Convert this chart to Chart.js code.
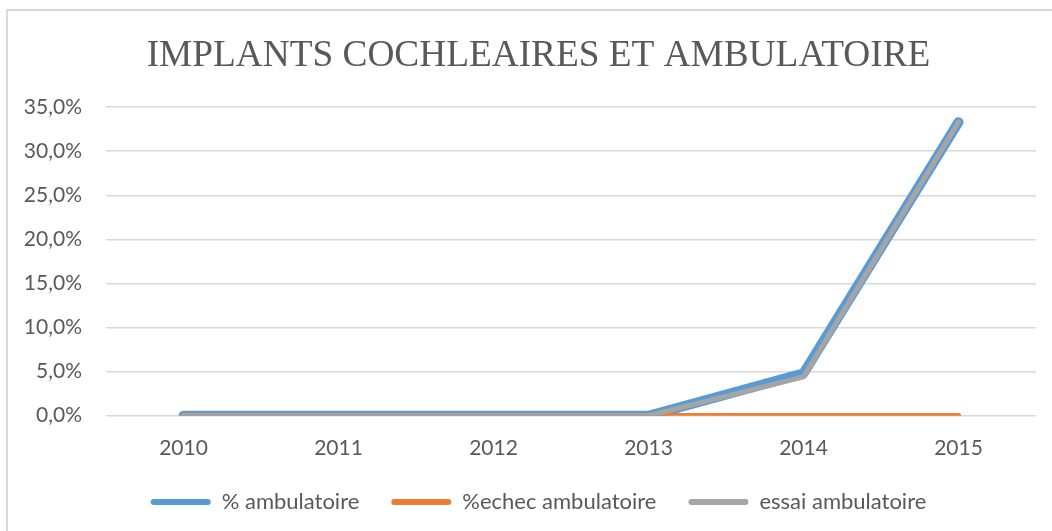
<!DOCTYPE html>
<html>
<head>
<meta charset="utf-8">
<script src="https://cdn.jsdelivr.net/npm/chart.js@4.4.1/dist/chart.umd.min.js"></script>
<style>
  html, body { margin: 0; padding: 0; background: #ffffff; }
  #wrap { position: relative; width: 1052px; height: 531px; }
  #frame { position: absolute; left: 6px; top: 9px; right: 0; bottom: 0;
           border-top: 2px solid #d9d9d9; border-left: 2px solid #d9d9d9; }
  canvas { position: absolute; left: 0; top: 0; }
</style>
</head>
<body>
<div id="wrap">
  <div id="frame"></div>
  <canvas id="c" width="1052" height="531"></canvas>
</div>
<script>
const titleText = 'IMPLANTS COCHLEAIRES ET AMBULATOIRE';
const categories = ['2010', '2011', '2012', '2013', '2014', '2015'];
const seriesNames = ['% ambulatoire', '%echec ambulatoire', 'essai ambulatoire'];
const ambulatoire = [0, 0, 0, 0, 4.8, 33.3];
const echecAmbulatoire = [0, 0, 0, 0, 0, 0];
const essaiAmbulatoire = [0, 0, 0, 0, 4.4, 33.3];
const yTicks = [0, 5, 10, 15, 20, 25, 30, 35];

const colors = ['#5B9BD5', '#ED7D31', '#A5A5A5'];
const widths = [10, 5.5, 5];
const textColor = '#595959';

Chart.defaults.font.family = 'Lato, "Open Sans", sans-serif';

// shift title and legend blocks horizontally so they are centred like the reference
const centreShift = {
  id: 'centreShift',
  afterLayout(chart) {
    const dx = 20.5;
    [chart.titleBlock, chart.legend].forEach(b => {
      if (b) { b.left += dx; b.right += dx; }
    });
  }
};

new Chart(document.getElementById('c'), {
  type: 'line',
  plugins: [centreShift],
  data: {
    labels: categories,
    datasets: [
      { label: seriesNames[0], data: ambulatoire, borderColor: colors[0], backgroundColor: colors[0], borderWidth: widths[0], order: 2 },
      { label: seriesNames[1], data: echecAmbulatoire, borderColor: colors[1], backgroundColor: colors[1], borderWidth: widths[1], order: 1 },
      { label: seriesNames[2], data: essaiAmbulatoire, borderColor: colors[2], backgroundColor: colors[2], borderWidth: widths[2], order: 0 }
    ].map(d => Object.assign(d, { pointRadius: 0, pointHoverRadius: 0, tension: 0, borderCapStyle: 'round', borderJoinStyle: 'round', fill: false }))
  },
  options: {
    responsive: false,
    animation: false,
    devicePixelRatio: 1,
    layout: { padding: { top: 12, right: 16, bottom: 8, left: 0 } },
    plugins: {
      tooltip: { enabled: false },
      title: {
        display: true,
        text: titleText,
        color: textColor,
        font: { family: '"Liberation Serif", "Times New Roman", serif', size: 37.3, weight: 'normal', lineHeight: 1.2 },
        padding: { top: 22, bottom: 28.4 }
      },
      legend: {
        position: 'bottom',
        labels: {
          color: textColor,
          font: { size: 22 },
          boxWidth: 60,
          boxHeight: 6,
          padding: 32,
          generateLabels(chart) {
            return chart.data.datasets.map((ds, i) => ({
              text: ds.label,
              fillStyle: ds.borderColor,
              strokeStyle: ds.borderColor,
              lineWidth: 0,
              borderRadius: 3,
              hidden: !chart.isDatasetVisible(i),
              datasetIndex: i,
              fontColor: textColor
            }));
          }
        }
      }
    },
    scales: {
      x: {
        offset: true,
        grid: { display: false, drawTicks: false },
        border: { display: false },
        ticks: { color: textColor, font: { size: 21 }, padding: 19.5, maxRotation: 0 },
        afterFit(scale) { scale.height = 43.3; }
      },
      y: {
        min: 0,
        max: 35,
        afterBuildTicks(scale) { scale.ticks = yTicks.map(v => ({ value: v })); },
        grid: { color: '#d9d9d9', lineWidth: 1.5, drawTicks: false },
        border: { display: false },
        ticks: {
          color: textColor,
          font: { size: 21 },
          padding: 24,
          callback: v => v.toFixed(1).replace('.', ',') + '%'
        },
        afterFit(scale) { scale.width = 106; }
      }
    }
  }
});
</script>
</body>
</html>
